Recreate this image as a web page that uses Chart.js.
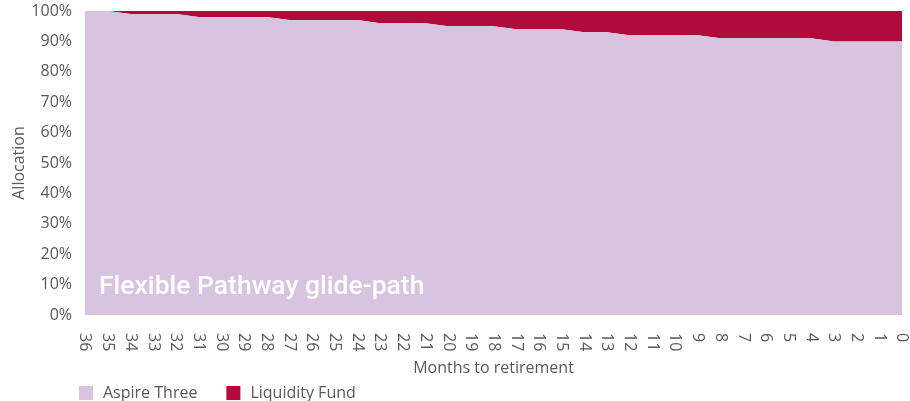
<!DOCTYPE html>
<html>
<head>
<meta charset="utf-8">
<script src="https://cdn.jsdelivr.net/npm/chart.js@4/dist/chart.umd.min.js"></script>
<style>
html,body{margin:0;padding:0;background:#fff;}
#wrap{width:910px;height:401px;position:relative;}
</style>
</head>
<body>
<div id="wrap"><canvas id="c" width="910" height="401"></canvas></div>
<script>
const months = ['36','35','34','33','32','31','30','29','28','27','26','25','24','23','22','21','20','19','18','17','16','15','14','13','12','11','10','9','8','7','6','5','4','3','2','1','0'];
const aspireThree = [100,100,99,99,99,98,98,98,98,97,97,97,97,96,96,96,95,95,95,94,94,94,93,93,92,92,92,92,91,91,91,91,91,90,90,90,90];
const liquidityFund = [0,0,1,1,1,2,2,2,2,3,3,3,3,4,4,4,5,5,5,6,6,6,7,7,8,8,8,8,9,9,9,9,9,10,10,10,10];
const yTicks = [0,10,20,30,40,50,60,70,80,90,100];
const seriesNames = ['Aspire Three','Liquidity Fund'];
const seriesColors = ['#D8C4E0','#AF0C3B'];
const chartLabel = 'Flexible Pathway glide-path';
const xTitle = 'Months to retirement';
const yTitle = 'Allocation';

const TEXT = '#595959';
const FONT = '"Open Sans", sans-serif';

const overlay = {
  id: 'overlay',
  afterDraw(chart) {
    const ctx = chart.ctx;
    const xs = chart.scales.x;
    const area = chart.chartArea;
    ctx.save();
    // rotated x tick labels (clockwise)
    ctx.fillStyle = TEXT;
    ctx.font = '16px ' + FONT;
    ctx.textAlign = 'left';
    ctx.textBaseline = 'middle';
    xs.ticks.forEach((t, i) => {
      const x = xs.getPixelForTick(i);
      ctx.save();
      ctx.translate(x, area.bottom + 18);
      ctx.rotate(Math.PI / 2);
      ctx.fillText(months[i], 0, 0);
      ctx.restore();
    });
    // inner label
    ctx.fillStyle = '#ffffff';
    ctx.font = '500 26.5px Roboto, sans-serif';
    ctx.textAlign = 'left';
    ctx.textBaseline = 'alphabetic';
    ctx.fillText(chartLabel, area.left + 14, 294);
    // legend
    ctx.font = '16px ' + FONT;
    ctx.textBaseline = 'middle';
    let lx = 79;
    const ly = 393;
    chart.data.datasets.forEach((ds) => {
      ctx.fillStyle = ds.backgroundColor;
      ctx.fillRect(lx, ly - 7, 14, 14);
      ctx.fillStyle = TEXT;
      ctx.fillText(ds.label, lx + 24, ly);
      lx += 24 + ctx.measureText(ds.label).width + 29;
    });
    ctx.restore();
  }
};

new Chart(document.getElementById('c'), {
  type: 'line',
  data: {
    labels: months,
    datasets: [
      { label: seriesNames[0], data: aspireThree, backgroundColor: seriesColors[0], borderColor: seriesColors[0], borderWidth: 0, pointRadius: 0, fill: 'origin', tension: 0 },
      { label: seriesNames[1], data: liquidityFund, backgroundColor: seriesColors[1], borderColor: seriesColors[1], borderWidth: 0, pointRadius: 0, fill: '-1', tension: 0 }
    ]
  },
  options: {
    responsive: false,
    animation: false,
    devicePixelRatio: 1,
    layout: { padding: { left: 10, right: 8, top: 11, bottom: 23 } },
    plugins: {
      legend: { display: false },
      tooltip: { enabled: false },
      filler: { propagate: false }
    },
    scales: {
      x: {
        offset: false,
        grid: { display: false, drawTicks: false },
        border: { display: false },
        ticks: { display: false },
        afterFit: (s) => { s.height = 63; s.paddingLeft = 0; s.paddingRight = 0; },
        title: { display: true, text: xTitle, color: TEXT, font: { size: 16, family: FONT }, padding: { top: 44, bottom: 0 } }
      },
      y: {
        stacked: true,
        min: 0,
        max: 100,
        afterBuildTicks: (s) => { s.ticks = yTicks.map(v => ({ value: v })); },
        afterFit: (s) => { s.width = 75; s.paddingTop = 0; s.paddingBottom = 0; },
        grid: { display: false, drawTicks: false },
        border: { display: false },
        ticks: { color: TEXT, padding: 13, font: { size: 16, family: FONT }, callback: (v) => v + '%' },
        title: { display: true, text: yTitle, color: TEXT, font: { size: 16, family: FONT }, padding: { top: 0, bottom: 4 } }
      }
    }
  },
  plugins: [overlay]
});
</script>
</body>
</html>
